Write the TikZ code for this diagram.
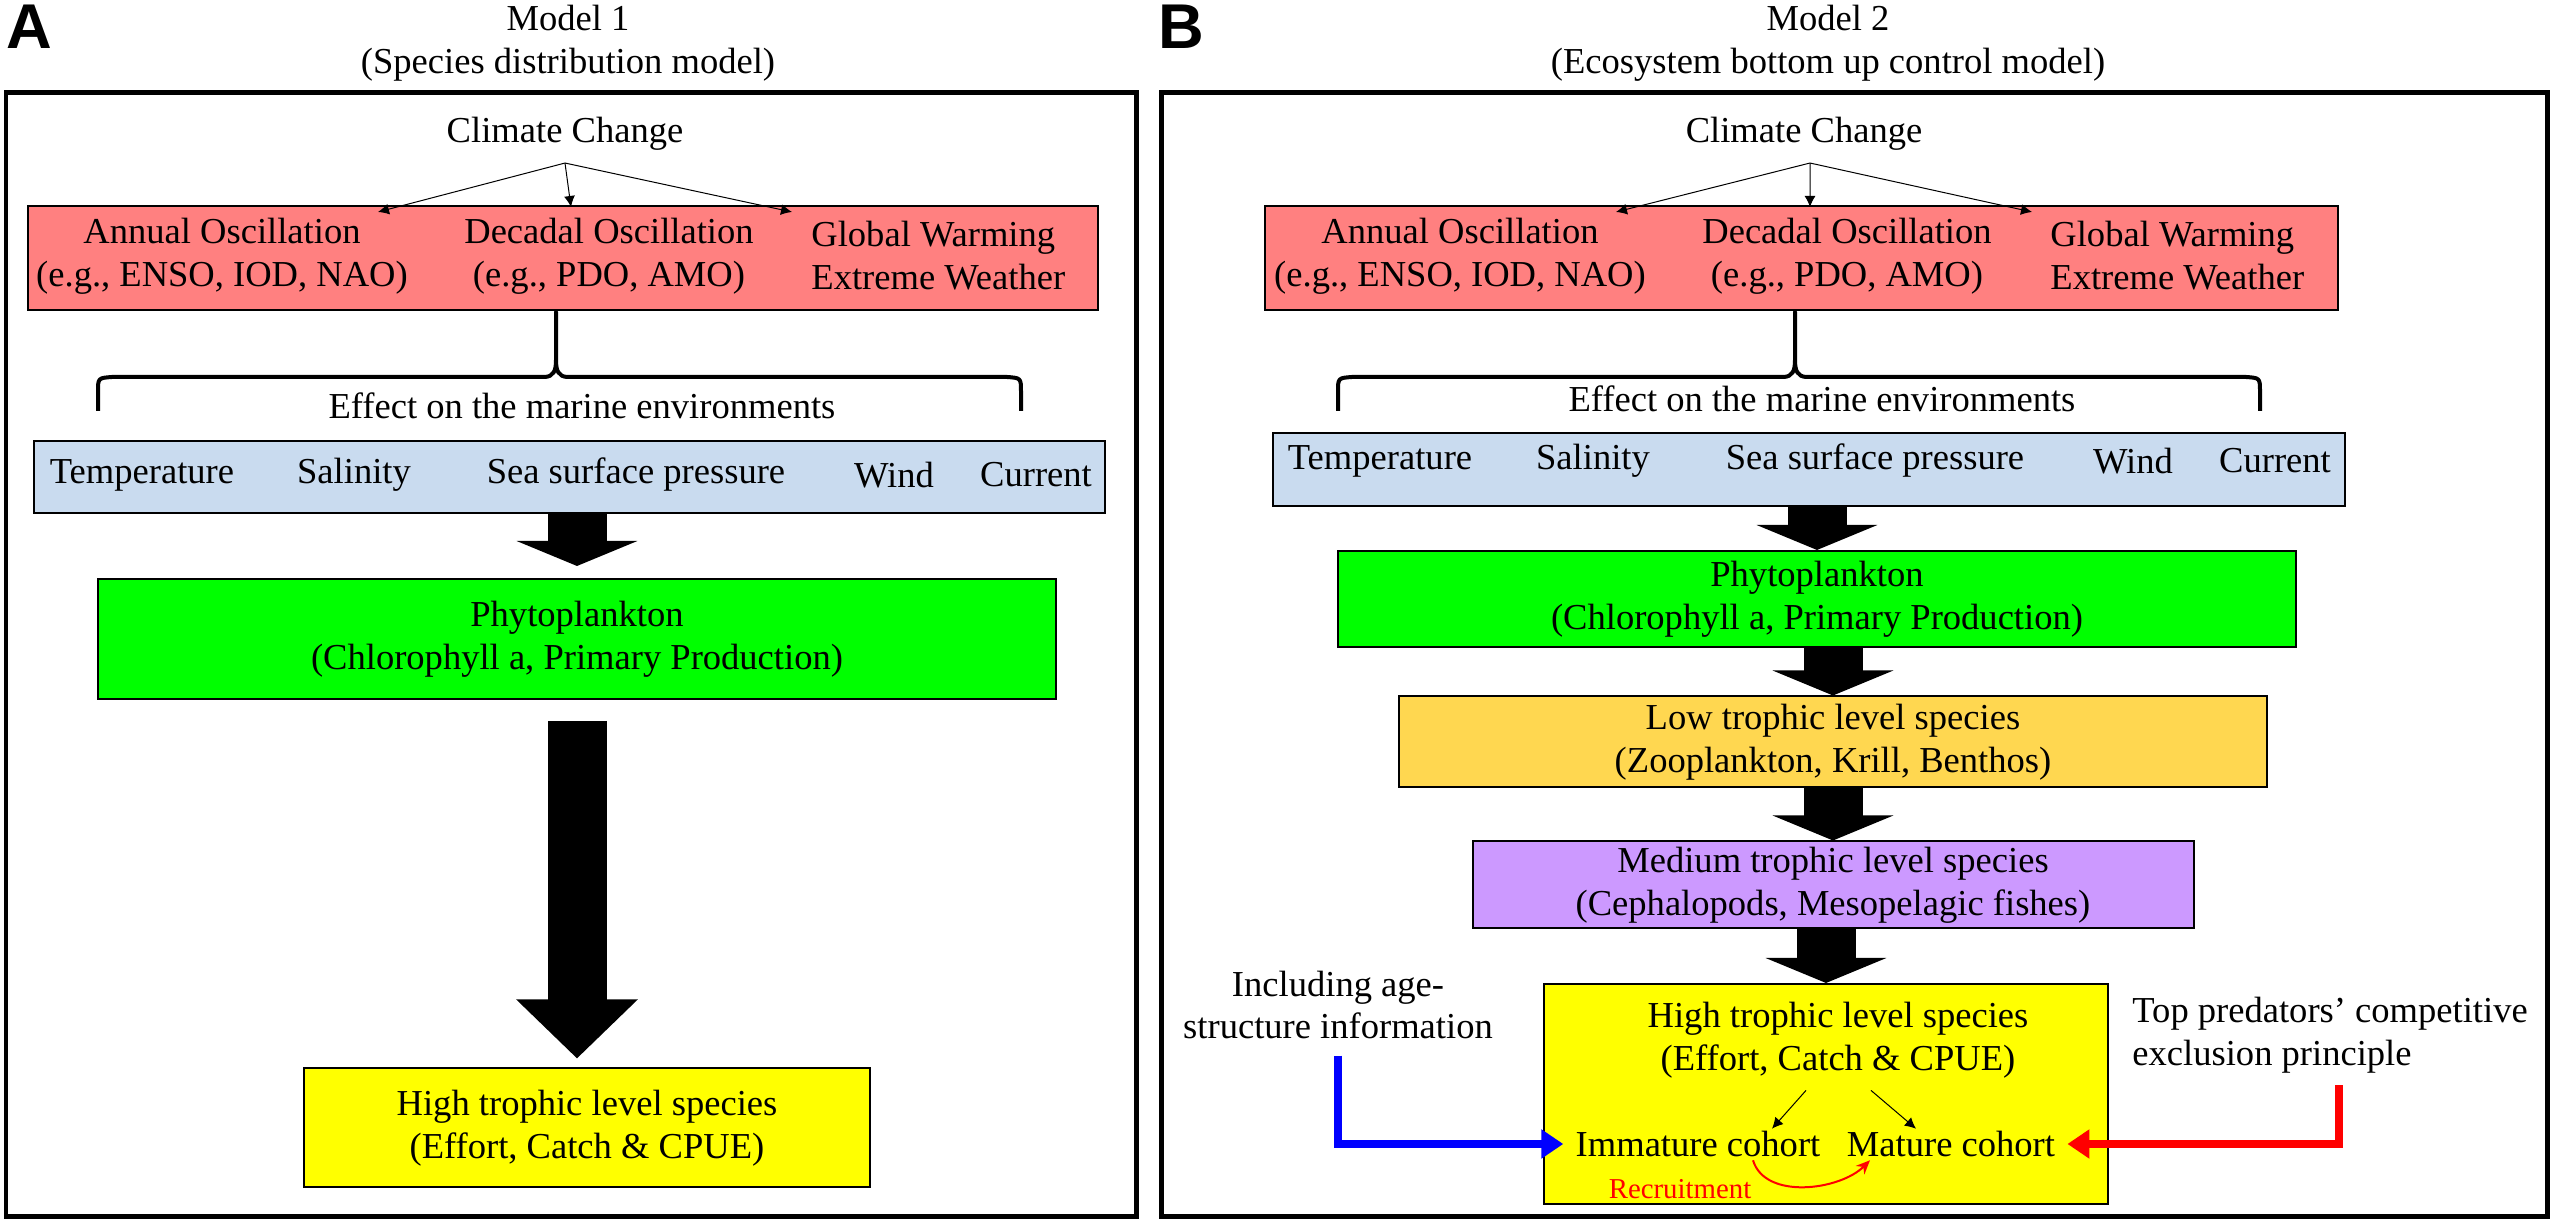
\documentclass[tikz,border=0pt]{standalone}
\usepackage{fontspec}
\setmainfont{Liberation Serif}
\newfontfamily\panelsans{Liberation Sans}
\usetikzlibrary{positioning,arrows.meta,calc}

\definecolor{climred}{HTML}{FF8080}
\definecolor{envblue}{HTML}{C9DBEF}
\definecolor{phygreen}{HTML}{00FF00}
\definecolor{lowgold}{HTML}{FFD750}
\definecolor{medpurple}{HTML}{CC99FF}
\definecolor{hiyellow}{HTML}{FFFF00}

\tikzset{
  box/.style={draw=black, line width=0.2mm, inner sep=0pt, align=center},
  frame/.style={draw=black, line width=0.5mm},
  panel/.style={font=\panelsans\bfseries\fontsize{18}{20}\selectfont},
  thinarrow/.style={line width=0.1mm, -{Latex[length=1.1mm,width=1.1mm]}},
  block/.style={line width=5.9mm, -{Triangle[width=12mm,length=2.5mm]}},
  bracket/.style={line width=0.4mm, line join=round},
  lblue/.style={blue, line width=0.85mm, -{Triangle[width=2.8mm,length=2.2mm]}},
  lred/.style={red, line width=0.85mm, -{Triangle[width=2.8mm,length=2.2mm]}},
  recr/.style={red, line width=0.2mm, -{Stealth[length=1.4mm,width=1.2mm]}}
}

\begin{document}
\begin{tikzpicture}[x=0.1mm,y=-0.1mm,
  every node/.append style={font=\fontsize{10.4}{12.2}\selectfont}]
\useasboundingbox (0,0) rectangle (2554,1227);

% Model 1
\node[panel] (labA) at (29,27) {A};
\node[align=center] (titA) at (568,43) {Model 1\\(Species distribution model)};
\draw[frame] (6,93) rectangle (1136,1217);

\node (ccA) at (565,134) {Climate Change};
\node[box, fill=climred, minimum width=107mm, minimum height=10.4mm] (redA) at (563,258) {};
\node[align=center] (annA) at (222,256) {Annual Oscillation\\(e.g., ENSO, IOD, NAO)};
\node[align=center] (decA) at (609,256) {Decadal Oscillation\\(e.g., PDO, AMO)};
\node[align=left, anchor=west] (glbA) at (799,256) {Global Warming\\Extreme Weather};
\coordinate (c1A) at (378,212);
\coordinate (c2A) at (571,207);
\coordinate (c3A) at (792,212);
\draw[thinarrow] (ccA.south) -- (c1A);
\draw[thinarrow] (ccA.south) -- (c2A);
\draw[thinarrow] (ccA.south) -- (c3A);

\draw[bracket] (98,411) -- (98,392) .. controls (98,378) .. (112,377) -- (544,377)
  .. controls (554,377) and (556,370) .. (556,360) -- (556,312) -- (556,360)
  .. controls (556,370) and (558,377) .. (568,377) -- (1007,377)
  .. controls (1021,378) .. (1021,392) -- (1021,411);
\node (effA) at (582,406) {Effect on the marine environments};

\node[box, fill=envblue, minimum width=107.1mm, minimum height=7.2mm] (envA) at (569,477) {};
\node (tmpA) at (142,475) {Temperature};
\node (salA) at (354,475) {Salinity};
\node (sspA) at (636,475) {Sea surface pressure};
\node (wndA) at (894,475) {Wind};
\node (curA) at (1036,475) {Current};

\node[box, fill=phygreen, minimum width=95.8mm, minimum height=12mm] (phyA) at (577,639)
  {Phytoplankton\\(Chlorophyll a, Primary Production)};
\node[box, fill=hiyellow, minimum width=56.6mm, minimum height=11.9mm] (hiA) at (587,1128)
  {High trophic level species\\(Effort, Catch \& CPUE)};

\draw[block, shorten >=1.2mm] (envA.south -| phyA.north) -- (phyA.north);
\draw[block, -{Triangle[width=11.8mm,length=5.9mm]}, shorten <=2.1mm, shorten >=0.9mm]
  (phyA.south) -- (phyA.south |- hiA.north);

% Model 2
\node[panel] (labB) at (1181,27) {B};
\node[align=center] (titB) at (1828,43) {Model 2\\(Ecosystem bottom up control model)};
\draw[frame] (1161,93) rectangle (2547,1217);

\node (ccB) at (1804,134) {Climate Change};
\node[box, fill=climred, minimum width=107.3mm, minimum height=10.4mm] (redB) at (1801,258) {};
\node[align=center] (annB) at (1460,256) {Annual Oscillation\\(e.g., ENSO, IOD, NAO)};
\node[align=center] (decB) at (1847,256) {Decadal Oscillation\\(e.g., PDO, AMO)};
\node[align=left, anchor=west] (glbB) at (2038,256) {Global Warming\\Extreme Weather};
\coordinate (c1B) at (1616,212);
\coordinate (c2B) at (1810,207);
\coordinate (c3B) at (2032,212);
\draw[thinarrow] ([xshift=0.6mm]ccB.south) -- (c1B);
\draw[thinarrow] ([xshift=0.6mm]ccB.south) -- (c2B);
\draw[thinarrow] ([xshift=0.6mm]ccB.south) -- (c3B);

\draw[bracket] (1338,411) -- (1338,392) .. controls (1338,378) .. (1352,377) -- (1783,377)
  .. controls (1793,377) and (1795,370) .. (1795,360) -- (1795,312) -- (1795,360)
  .. controls (1795,370) and (1797,377) .. (1807,377) -- (2246,377)
  .. controls (2260,378) .. (2260,392) -- (2260,411);
\node (effB) at (1822,399) {Effect on the marine environments};

\node[box, fill=envblue, minimum width=107.2mm, minimum height=7.3mm] (envB) at (1809,470) {};
\node (tmpB) at (1380,461) {Temperature};
\node (salB) at (1593,461) {Salinity};
\node (sspB) at (1875,461) {Sea surface pressure};
\node (wndB) at (2133,461) {Wind};
\node (curB) at (2275,461) {Current};

\node[box, fill=phygreen, minimum width=95.8mm, minimum height=9.6mm] (phyB) at (1817,599)
  {Phytoplankton\\(Chlorophyll a, Primary Production)};
\node[box, fill=lowgold, minimum width=86.8mm, minimum height=9.1mm] (lowB) at (1833,742)
  {Low trophic level species\\(Zooplankton, Krill, Benthos)};
\node[box, fill=medpurple, minimum width=72.1mm, minimum height=8.7mm] (medB) at (1833,885)
  {Medium trophic level species\\(Cephalopods, Mesopelagic fishes)};
\node[box, fill=hiyellow, minimum width=56.4mm, minimum height=22mm] (hiB) at (1826,1094) {};
\node[align=center] (hitB) at (1838,1040) {High trophic level species\\(Effort, Catch \& CPUE)};
\node (immB) at (1698,1144) {Immature cohort};
\node (matB) at (1951,1144) {Mature cohort};
\node[red, font=\fontsize{8.2}{10}\selectfont] (recB) at (1680,1189) {Recruitment};

\draw[block] (envB.south -| phyB.north) -- (phyB.north);
\draw[block] (phyB.south -| lowB.north) -- (lowB.north);
\draw[block] (lowB.south -| medB.north) -- (medB.north);
\draw[block] (medB.south -| hiB.north) -- (hiB.north);

\draw[thinarrow] ([xshift=-3.2mm]hitB.south) -- ([xshift=7.4mm,yshift=-1mm]immB.north);
\draw[thinarrow] ([xshift=3.3mm]hitB.south) -- ([xshift=-3.5mm,yshift=-1mm]matB.north);
\draw[recr] ([xshift=5.5mm,yshift=0.9mm]immB.south) .. controls +(12,40) and +(-30,30) ..
  ([xshift=-8.1mm,yshift=0.9mm]matB.south);

\node[align=center] (ageB) at (1338,1005) {Including age-\\structure information};
\node[align=left, anchor=west] (topB) at (2120,1035) {Top predators' competitive\\exclusion principle};
\draw[lblue] ([yshift=-0.4mm]ageB.south) |- (immB.west);
\draw[lred] ([xshift=0.9mm]topB.south) |- (matB.east);
\end{tikzpicture}
\end{document}
